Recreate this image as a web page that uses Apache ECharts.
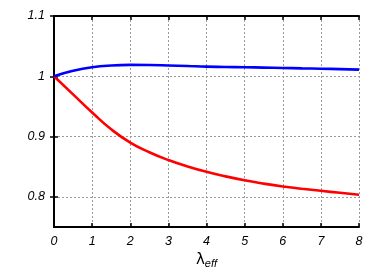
<!DOCTYPE html>
<html>
<head>
<meta charset="utf-8">
<script src="https://cdn.jsdelivr.net/npm/echarts@6/dist/echarts.min.js"></script>
<style>
  html, body { margin: 0; padding: 0; background: #fff; }
  #chart { width: 382px; height: 267px; }
</style>
</head>
<body>
<div id="chart"></div>
<script>
// values
const xVals = [0, 0.5, 1, 1.5, 2, 2.5, 3, 3.5, 4, 4.5, 5, 5.5, 6, 6.5, 7, 7.5, 8];
const yBlue = [1, 1.009, 1.015, 1.018, 1.019, 1.0188, 1.018, 1.017, 1.016, 1.0155, 1.015, 1.0144, 1.0138, 1.0132, 1.0126, 1.0118, 1.011];
const yRed = [1, 0.97, 0.94, 0.912, 0.89, 0.874, 0.861, 0.8505, 0.8415, 0.834, 0.8275, 0.822, 0.8173, 0.8135, 0.81, 0.8067, 0.8035];
const yTicks = [0.8, 0.9, 1, 1.1];

const chartDom = document.getElementById('chart');
const myChart = echarts.init(chartDom);

const labelFont = {
    fontFamily: 'Liberation Sans',
    fontStyle: 'italic',
    fontSize: 12.5,
    color: '#000'
};
const gridLine = {
    show: true,
    lineStyle: { color: '#9a9a9a', type: [2, 2], width: 1 }
};
const frameLine = { show: true, lineStyle: { color: '#000', width: 2 } };
const innerTick = { show: true, inside: true, length: 4, lineStyle: { color: '#000', width: 1.5 } };

const option = {
    animation: false,
    grid: { left: 54, right: 23, top: 16, bottom: 40, outerBoundsMode: 'none', containLabel: false },
    xAxis: [
        {
            type: 'value',
            min: 0,
            max: 8,
            interval: 1,
            axisLine: frameLine,
            axisTick: innerTick,
            splitLine: gridLine,
            axisLabel: Object.assign({ margin: 8 }, labelFont),
            name: '{l|λ}{s|eff}',
            nameLocation: 'middle',
            nameGap: 23,
            nameTextStyle: {
                rich: {
                    l: { fontFamily: 'DejaVu Sans', fontSize: 15, color: '#000' },
                    s: { fontFamily: 'Liberation Sans', fontStyle: 'italic', fontSize: 11, color: '#000', padding: [7, 0, 0, 0] }
                }
            }
        },
        {
            type: 'value',
            position: 'top',
            min: 0,
            max: 8,
            interval: 1,
            axisLine: frameLine,
            axisTick: innerTick,
            axisLabel: { show: false },
            splitLine: { show: false }
        }
    ],
    yAxis: [
        {
            type: 'value',
            min: 0.75,
            max: 1.1,
            axisLine: frameLine,
            axisTick: Object.assign({ customValues: yTicks }, innerTick),
            splitLine: gridLine,
            axisLabel: Object.assign({ customValues: yTicks, margin: 9 }, labelFont)
        },
        {
            type: 'value',
            position: 'right',
            min: 0.75,
            max: 1.1,
            axisLine: frameLine,
            axisTick: Object.assign({ customValues: yTicks }, innerTick),
            axisLabel: { show: false },
            splitLine: { show: false }
        }
    ],
    series: [
        {
            name: 'blue',
            type: 'line',
            smooth: true,
            showSymbol: false,
            data: xVals.map((x, i) => [x, yBlue[i]]),
            lineStyle: { color: '#0000ff', width: 2.6 },
            z: 3
        },
        {
            name: 'red',
            type: 'line',
            smooth: true,
            showSymbol: false,
            data: xVals.map((x, i) => [x, yRed[i]]),
            lineStyle: { color: '#ff0000', width: 2.6 },
            z: 2
        }
    ]
};

option && myChart.setOption(option);
</script>
</body>
</html>
